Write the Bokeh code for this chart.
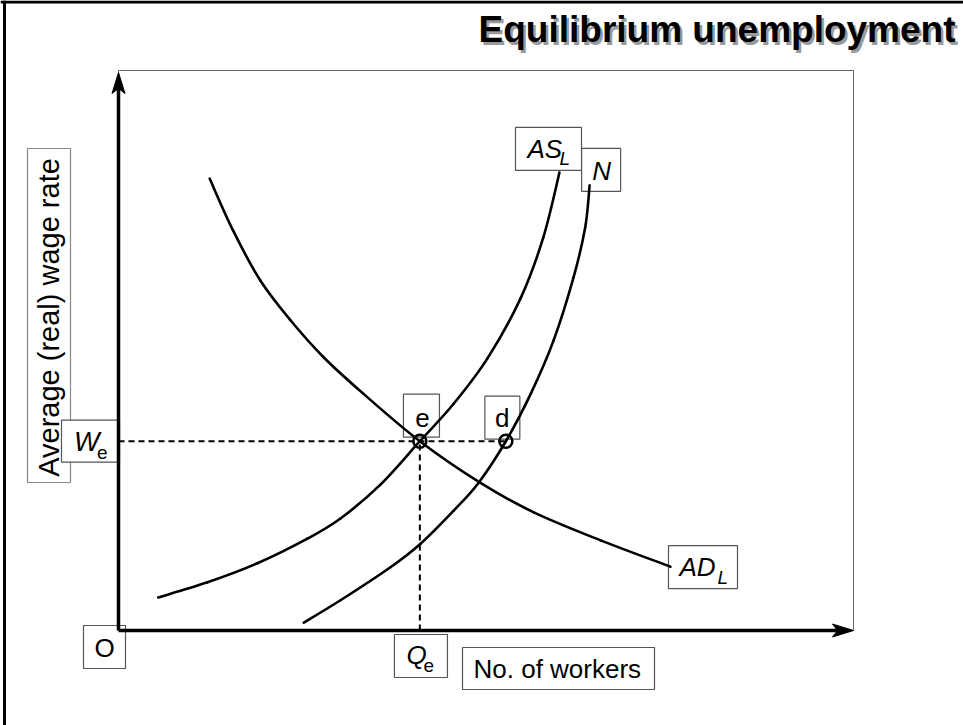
import math
from bokeh.plotting import figure
from bokeh.models import Range1d
from bokeh.core.properties import value
from bokeh.embed import file_html
from bokeh.resources import INLINE

# ---------------- data (schematic units: workers 0-100, wage 0-100) ----------------
ad_q = [12.4, 15.6, 19.3, 23.4, 27.9, 33.3, 41.0, 49.2, 56.5, 65.6, 75.1]
ad_w = [80.7, 71.4, 62.5, 55.4, 48.8, 42.3, 33.8, 26.4, 21.1, 16.1, 11.4]
as_q = [5.4, 12.1, 18.9, 25.7, 30.2, 35.6, 41.0, 45.6, 50.2, 54.7, 57.8, 60.0]
as_w = [5.9, 8.6, 12.0, 16.4, 20.0, 26.0, 33.8, 40.5, 48.6, 59.3, 70.2, 81.8]
n_q = [25.2, 30.2, 37.0, 41.1, 45.6, 49.0, 52.7, 56.1, 59.2, 61.9, 63.5, 64.1]
n_w = [1.4, 5.4, 11.3, 15.5, 21.4, 26.4, 33.8, 42.3, 51.8, 63.0, 72.0, 79.5]
Qe, We = 41.0, 33.8     # equilibrium e
Qd = 52.7               # point d (labour force at We)
x_max, y_max = 100, 100

title = "Equilibrium unemployment"
y_label = "Average (real) wage rate"
x_label = "No. of workers"

# ---------------- layout ----------------
FIG_W, FIG_H = 963, 725
OX, OY = 118, 630          # origin position inside the figure (px)
X_LEN, Y_LEN = 735, 560    # axis lengths (px)
kx, ky = X_LEN / x_max, Y_LEN / y_max

p = figure(width=FIG_W, height=FIG_H, output_backend="svg", toolbar_location=None,
           x_range=Range1d(-OX / kx, (FIG_W - OX) / kx),
           y_range=Range1d(-(FIG_H - OY) / ky, OY / ky),
           min_border=0, outline_line_color=None)
p.axis.visible = False
p.grid.visible = False
p.background_fill_color = "white"
p.border_fill_color = "white"


def P(ax, ay, ox, oy):
    """data anchor + screen offset (px, y downward)"""
    return ax + ox / kx, ay - oy / ky


FONT = value("Liberation Sans")

# outer frame (left & top)
x0, y0 = p.x_range.start, p.y_range.end
x1, y1 = p.x_range.end, p.y_range.start
p.segment(x0=[x0 + 4 / kx, x0], y0=[y0, y0 - 1.5 / ky], x1=[x0 + 4 / kx, x1], y1=[y1, y0 - 1.5 / ky],
          line_color="black", line_width=3)

# inner plot box
p.quad(left=[0], right=[x_max], bottom=[0], top=[y_max], fill_color=None,
       line_color="#666666", line_width=1)


def box(ax, ay, l, r, t, b, color="#555555"):
    L, T = P(ax, ay, l, t)
    R, B = P(ax, ay, r, b)
    p.quad(left=[L], right=[R], top=[T], bottom=[B], fill_color="white",
           line_color=color, line_width=1.2)


def txt(ax, ay, ox, oy, s, size, style="normal", align="left", angle=0, color="black"):
    """oy is the baseline offset for horizontal text, the centre for rotated text"""
    if angle == 0:
        oy = oy - 0.35 * size
    x, y = P(ax, ay, ox, oy)
    p.text(x=[x], y=[y], text=[s], text_font=FONT, text_font_size=f"{size}px",
           text_font_style=style, text_align=align, text_baseline="middle",
           angle=angle, text_color=color)


def smooth_curve(xs, ys, **kw):
    """draw a smooth (Catmull-Rom style) curve through the read points with Bokeh's bezier glyph"""
    n = len(xs)
    px = [xs[0]] + list(xs) + [xs[-1]]
    py = [ys[0]] + list(ys) + [ys[-1]]
    d = dict(x0=[], y0=[], x1=[], y1=[], cx0=[], cy0=[], cx1=[], cy1=[])
    for i in range(1, n):
        d["x0"].append(px[i]); d["y0"].append(py[i])
        d["x1"].append(px[i + 1]); d["y1"].append(py[i + 1])
        d["cx0"].append(px[i] + (px[i + 1] - px[i - 1]) / 6)
        d["cy0"].append(py[i] + (py[i + 1] - py[i - 1]) / 6)
        d["cx1"].append(px[i + 1] - (px[i + 2] - px[i]) / 6)
        d["cy1"].append(py[i + 1] - (py[i + 2] - py[i]) / 6)
    p.bezier(source=d, x0="x0", y0="y0", x1="x1", y1="y1",
             cx0="cx0", cy0="cy0", cx1="cx1", cy1="cy1", **kw)


# label boxes
box(0, 0, -91, -48, -482, -148, color="#888888")   # y-axis label
box(0, We, -57, 1, -21, 21)                         # W_e
box(Qe, 0, -25.4, 27.6, 4, 47)                      # Q_e
box(0, 0, -35, 7, -5, 38)                           # O
box(0, 0, 344, 536, 17, 59)                         # No. of workers
box(Qe, We, -16.4, 19.6, -47, -4)                   # e
box(Qd, We, -21, 14, -45, -2)                       # d
box(as_q[-1], as_w[-1], -44, 22, -45, -2)           # AS_L
box(n_q[-1], n_w[-1], -8, 31, -37, 6)               # N
box(ad_q[-1], ad_w[-1], -2, 67, -21, 22)            # AD_L

# dashed guides
p.line([0, Qd], [We, We], line_color="black", line_width=2, line_dash="6 4")
p.line([Qe, Qe], [0, We], line_color="black", line_width=2, line_dash="6 4")

# curves
for xs, ys in ((ad_q, ad_w), (as_q, as_w), (n_q, n_w)):
    smooth_curve(xs, ys, line_color="black", line_width=2.6, line_cap="round")

# points
p.scatter([Qe, Qd], [We, We], size=13, marker="circle", fill_color=None,
          line_color="black", line_width=2.5)

# axes with arrow heads
y_tip = y_max - 2 / ky
p.line([0, 0], [0, y_tip - 12 / ky], line_color="black", line_width=3.5)
p.line([0, x_max - 12 / kx], [0, 0], line_color="black", line_width=3.5)
hx = [x_max, x_max - 21 / kx, x_max - 16 / kx, x_max - 21 / kx]
hy = [0, 6.5 / ky, 0, -6.5 / ky]
p.patch(hx, hy, fill_color="black", line_color="black", line_width=1)
vx = [0, 6.5 / kx, 0, -6.5 / kx]
vy = [y_tip, y_tip - 21 / ky, y_tip - 16 / ky, y_tip - 21 / ky]
p.patch(vx, vy, fill_color="black", line_color="black", line_width=1)

# texts
txt(0, 0, -70, -313, y_label, 29, angle=math.pi / 2, align="center")
txt(0, We, -44.5, 10, "W", 27, style="italic")
txt(0, We, -21.5, 18, "e", 19)
txt(Qe, 0, -13.4, 34, "Q", 26, style="italic")
txt(Qe, 0, 3.6, 42, "e", 19)
txt(0, 0, -14, 27, "O", 26, align="center")
txt(0, 0, 355, 48, x_label, 26)
txt(Qe, We, 2.6, -14, "e", 26, align="center")
txt(Qd, We, -3.5, -14, "d", 26, align="center")
txt(as_q[-1], as_w[-1], -32, -14, "AS", 26, style="italic")
txt(as_q[-1], as_w[-1], 0, -7, "L", 19, style="italic")
txt(n_q[-1], n_w[-1], 2.6, -4.8, "N", 26, style="italic")
txt(ad_q[-1], ad_w[-1], 9, 9, "AD", 26, style="italic")
txt(ad_q[-1], ad_w[-1], 47, 17, "L", 19, style="italic")

# title with drop shadow
txt(x_max, y_max, 104.5, -25.5, title, 37, style="bold", align="right", color="#9a9a9a")
txt(x_max, y_max, 102, -28, title, 37, style="bold", align="right")

open("out.html", "w").write(file_html(p, INLINE))
